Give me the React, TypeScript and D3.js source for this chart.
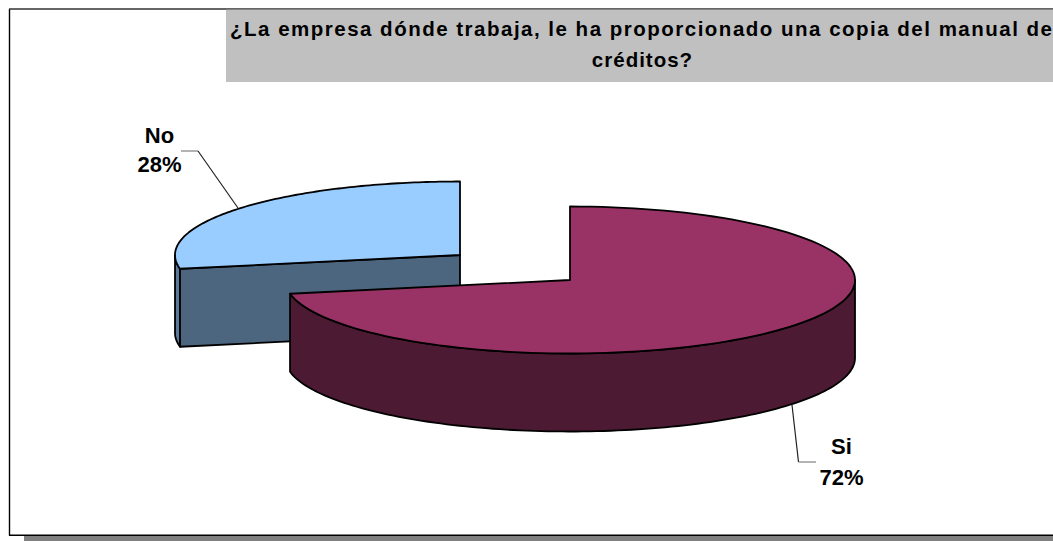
import React from "react";
import * as d3 from "d3";

const categories = ["Si", "No"];
const shares = [72, 28];
const topColors = ["#993366", "#99CCFF"];
const wallColors = ["#4D1A33", "#4D6680"];
const titleLines = [
  "¿La empresa dónde trabaja, le ha proporcionado una copia del manual de",
  "créditos?",
];

const WIDTH = 1053;
const HEIGHT = 541;
const RX = 285;
const RY = 73.5;
const DEPTH = 78;
const FONT = "'Liberation Sans', Arial, sans-serif";

// Slices run clockwise from twelve o'clock, in data order.
const pie = d3
  .pie<number>()
  .sort(null)
  .value((d) => d);
const slices = pie(shares);

// The "No" slice is pulled away from the rest of the pie.
const centers = [
  { x: 570, y: 280 },
  { x: 460, y: 255 },
];

const onRim = (angle: number, c: { x: number; y: number }, drop = 0): [number, number] => [
  c.x + RX * Math.sin(angle),
  c.y - RY * Math.cos(angle) + drop,
];

const line = d3.line();

// Flat top of a slice, sampled along the ellipse.
const topPath = (start: number, end: number, c: { x: number; y: number }) => {
  const steps = d3.range(0, 121).map((i) => start + ((end - start) * i) / 120);
  return line([[c.x, c.y], ...steps.map((a) => onRim(a, c))]) + "Z";
};

// Outer wall between two angles on the near side of the rim.
const rimWallPath = (start: number, end: number, c: { x: number; y: number }) => {
  const steps = d3.range(0, 121).map((i) => start + ((end - start) * i) / 120);
  const upper = steps.map((a) => onRim(a, c));
  const lower = steps.map((a) => onRim(a, c, DEPTH)).reverse();
  return line([...upper, ...lower]) + "Z";
};

// Cut face running from the centre out to the rim.
const cutWallPath = (angle: number, c: { x: number; y: number }) => {
  const p = onRim(angle, c);
  const q = onRim(angle, c, DEPTH);
  return line([[c.x, c.y], p, q, [c.x, c.y + DEPTH]]) + "Z";
};

export default function App() {
  const [si, no] = slices;
  const cSi = centers[0];
  const cNo = centers[1];
  const stroke = { stroke: "#000", strokeWidth: 1.8, strokeLinejoin: "round" as const };
  const labelStyle = {
    fontFamily: FONT,
    fontWeight: 700,
    fontSize: 22,
    fill: "#000",
    textAnchor: "middle" as const,
  };

  return (
    <svg
      width={WIDTH}
      height={HEIGHT}
      style={{ position: "absolute", left: 0, top: 0, background: "#fff" }}
    >
      {/* Chart frame and its drop shadow */}
      <rect x={24} y={536} width={WIDTH - 24} height={5} fill="#808080" />
      <path d={`M9.5,535.5 V9`} fill="none" stroke="#000" strokeWidth={1.4} />
      <path d={`M9,9 H${WIDTH}`} fill="none" stroke="#333" strokeWidth={1.4} />
      <path d={`M9,535.3 H${WIDTH}`} fill="none" stroke="#000" strokeWidth={1.6} />

      {/* Title banner */}
      <rect x={226} y={9.7} width={WIDTH - 226} height={72.3} fill="#C0C0C0" />
      <g fontFamily={FONT} fontWeight={700} fontSize={20.5} textAnchor="middle" fill="#000">
        <text x={641} y={36} textLength={822} lengthAdjust="spacing">
          {titleLines[0]}
        </text>
        <text x={642.5} y={67} letterSpacing={1}>
          {titleLines[1]}
        </text>
      </g>

      {/* Detached slice */}
      <path d={rimWallPath(no.startAngle, (3 * Math.PI) / 2, cNo)} fill="#5B7A9B" {...stroke} />
      <path d={cutWallPath(no.startAngle, cNo)} fill={wallColors[1]} {...stroke} />
      <path d={topPath(no.startAngle, no.endAngle, cNo)} fill={topColors[1]} {...stroke} />

      {/* Main slice */}
      <path d={rimWallPath(Math.PI / 2, si.endAngle, cSi)} fill={wallColors[0]} {...stroke} />
      <path d={topPath(si.startAngle, si.endAngle, cSi)} fill={topColors[0]} {...stroke} />

      {/* Leader lines */}
      <path d="M181,151 H198" fill="none" stroke="#808080" strokeWidth={1.2} />
      <path d="M198,151 L238,208" fill="none" stroke="#222" strokeWidth={1.2} />
      <path d="M792,405 L798.5,462" fill="none" stroke="#222" strokeWidth={1.2} />
      <path d="M798.5,462 H816" fill="none" stroke="#808080" strokeWidth={1.2} />

      {/* Data labels */}
      <text x={159.5} y={143} {...labelStyle}>
        {categories[1]}
      </text>
      <text x={159.5} y={172} {...labelStyle}>
        {`${shares[1]}%`}
      </text>
      <text x={841.5} y={454} {...labelStyle}>
        {categories[0]}
      </text>
      <text x={841.5} y={485} {...labelStyle}>
        {`${shares[0]}%`}
      </text>
    </svg>
  );
}
